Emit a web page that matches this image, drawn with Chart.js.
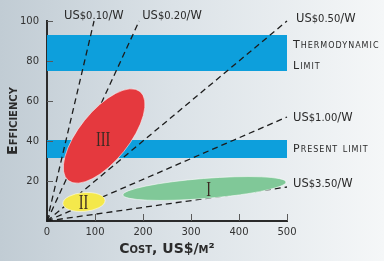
<!DOCTYPE html>
<html>
<head>
<meta charset="utf-8">
<script src="https://cdn.jsdelivr.net/npm/chart.js@4.4.1/dist/chart.umd.min.js"></script>
<style>
  html, body { margin: 0; padding: 0; }
  body { width: 384px; height: 261px; background: linear-gradient(to right, #c1ccd4 0%, #dbe2e7 45%, #f5f7f8 100%); }
  canvas { display: block; }
</style>
</head>
<body>
<canvas id="myChart" width="384" height="261"></canvas>
<script>
// axes
var costTicks = [0, 100, 200, 300, 400, 500];
var effTicks = [0, 20, 40, 60, 80, 100];

// dashed cost-per-watt lines, from the origin to these ends
var priceLabels = ["US$0.10/W", "US$0.20/W", "US$0.50/W", "US$1.00/W", "US$3.50/W"];
var lineEndCost = [98, 192, 500, 500, 500];
var lineEndEff = [100, 100, 100, 52, 17];

// blue efficiency bands
var bandLabels = [["Thermodynamic", "Limit"], ["Present limit"]];
var bandLow = [75, 31.5];
var bandHigh = [93, 40.5];

// generation regions (ellipses): centre plus ends of two conjugate half axes
var regionNames = ["III", "II", "I"];
var regionCost = [119, 77, 328];
var regionEff = [42.5, 9.5, 16.25];
var regionMajorCost = [193.5, 121, 498];
var regionMajorEff = [64.8, 10.2, 19.5];
var regionMinorCost = [160, 77, 330];
var regionMinorEff = [34.75, 14.2, 11.25];
var regionLabelCost = [117, 76, 337];
var regionLabelEff = [40.75, 9.25, 15.75];

var regionColor = ["#e5393e", "#f4e84b", "#80c898"];
var bandColor = "#0d9fdc";
var inkColor = "#2b2b2b";

function drawPrice(ctx, text, x, y) {
  // "US" and "/W" a bit bigger than the money part
  var m = text.match(/^(US)(\$[\d.]+)(\/W)$/);
  var parts = [[m[1], 11.5], [m[2], 10], [m[3], 11.5]];
  ctx.textAlign = "left";
  ctx.textBaseline = "alphabetic";
  parts.forEach(function(p) {
    ctx.font = p[1] + 'px "DejaVu Sans"';
    ctx.fillText(p[0], x, y);
    x += ctx.measureText(p[0]).width;
  });
}

var extras = {
  id: "extras",
  beforeDatasetsDraw: function(chart) {
    var ctx = chart.ctx, xs = chart.scales.x, ys = chart.scales.y;
    ctx.save();
    ctx.fillStyle = bandColor;
    for (var i = 0; i < bandLow.length; i++) {
      var x0 = xs.getPixelForValue(0), x1 = xs.getPixelForValue(500);
      var y0 = ys.getPixelForValue(bandHigh[i]), y1 = ys.getPixelForValue(bandLow[i]);
      ctx.fillRect(x0, y0, x1 - x0, y1 - y0);
    }
    ctx.restore();
  },
  afterDatasetsDraw: function(chart) {
    var ctx = chart.ctx, xs = chart.scales.x, ys = chart.scales.y;
    var area = chart.chartArea;
    ctx.save();

    // ellipses
    for (var i = 0; i < regionNames.length; i++) {
      var cx = xs.getPixelForValue(regionCost[i]), cy = ys.getPixelForValue(regionEff[i]);
      var ax = xs.getPixelForValue(regionMajorCost[i]) - cx, ay = ys.getPixelForValue(regionMajorEff[i]) - cy;
      var bx = xs.getPixelForValue(regionMinorCost[i]) - cx, by = ys.getPixelForValue(regionMinorEff[i]) - cy;
      ctx.save();
      ctx.transform(ax, ay, bx, by, cx, cy);
      ctx.beginPath();
      ctx.arc(0, 0, 1, 0, Math.PI * 2);
      ctx.restore();
      ctx.fillStyle = regionColor[i];
      ctx.fill();
      ctx.strokeStyle = "rgba(255,255,255,0.55)";
      ctx.lineWidth = 1;
      ctx.stroke();

      ctx.save();
      ctx.translate(xs.getPixelForValue(regionLabelCost[i]), ys.getPixelForValue(regionLabelEff[i]));
      ctx.scale(0.72, 1);
      ctx.fillStyle = "#3a2a22";
      ctx.font = '20px "Liberation Serif"';
      ctx.textAlign = "center";
      ctx.textBaseline = "middle";
      ctx.fillText(regionNames[i], 0, 1);
      ctx.restore();
    }

    // inner tick marks
    ctx.strokeStyle = "#5a5a5a";
    ctx.lineWidth = 1;
    costTicks.forEach(function(v) {
      if (v === 0) return;
      var x = Math.round(xs.getPixelForValue(v)) + 0.5;
      ctx.beginPath(); ctx.moveTo(x, area.bottom); ctx.lineTo(x, area.bottom - 7); ctx.stroke();
    });
    effTicks.forEach(function(v) {
      if (v === 0) return;
      var y = Math.round(ys.getPixelForValue(v)) + 0.5;
      ctx.beginPath(); ctx.moveTo(area.left, y); ctx.lineTo(area.left + 6, y); ctx.stroke();
    });

    // price labels at the ends of the dashed lines
    ctx.fillStyle = inkColor;
    for (var k = 0; k < priceLabels.length; k++) {
      var ex = xs.getPixelForValue(lineEndCost[k]), ey = ys.getPixelForValue(lineEndEff[k]);
      if (k === 0) drawPrice(ctx, priceLabels[k], ex - 30, ey - 2);
      else if (k === 1) drawPrice(ctx, priceLabels[k], ex + 3, ey - 2);
      else if (k === 2) drawPrice(ctx, priceLabels[k], ex + 9, ey + 1);
      else drawPrice(ctx, priceLabels[k], ex + 6, ey + (k === 4 ? 0 : 4));
    }

    // band labels
    ctx.font = 'small-caps 11px "DejaVu Sans"';
    ctx.letterSpacing = "1px";
    ctx.textAlign = "left";
    ctx.textBaseline = "middle";
    for (var j = 0; j < bandLabels.length; j++) {
      var mid = ys.getPixelForValue((bandLow[j] + bandHigh[j]) / 2);
      var lines = bandLabels[j];
      var lx = xs.getPixelForValue(500) + 6;
      if (lines.length === 1) ctx.fillText(lines[0], lx, mid);
      else { ctx.fillText(lines[0], lx, mid - 8); ctx.fillText(lines[1], lx, mid + 13); }
    }
    ctx.letterSpacing = "0px";

    // axis titles
    ctx.font = 'small-caps bold 14px "DejaVu Sans"';
    ctx.textAlign = "center";
    ctx.textBaseline = "middle";
    ctx.fillText("Cost, US$/m\u00b2", (area.left + area.right) / 2, 249);
    ctx.save();
    ctx.translate(13, (area.top + area.bottom) / 2);
    ctx.rotate(-Math.PI / 2);
    ctx.fillText("Efficiency", 0, 0);
    ctx.restore();

    ctx.restore();
  }
};

new Chart("myChart", {
  type: "line",
  data: {
    datasets: priceLabels.map(function(p, i) {
      return {
        label: p,
        data: [{x: 0, y: 0}, {x: lineEndCost[i], y: lineEndEff[i]}],
        borderColor: "#1c1c1c",
        borderWidth: 1.3,
        borderDash: [6, 4],
        pointRadius: 0,
        clip: false
      };
    })
  },
  options: {
    responsive: false,
    animation: false,
    layout: {padding: {left: 0, right: 97, top: 21, bottom: 0}},
    plugins: {legend: {display: false}, tooltip: {enabled: false}},
    scales: {
      x: {
        type: "linear", min: 0, max: 500,
        afterBuildTicks: function(s) { s.ticks = costTicks.map(function(v) { return {value: v}; }); },
        ticks: {color: "#333", font: {family: "DejaVu Sans", size: 10}, padding: 5, maxRotation: 0},
        grid: {display: false, drawTicks: false},
        border: {color: inkColor, width: 2},
        afterFit: function(s) { s.height = 40; }
      },
      y: {
        type: "linear", min: 0, max: 100,
        afterBuildTicks: function(s) { s.ticks = effTicks.map(function(v) { return {value: v}; }); },
        ticks: {color: "#333", font: {family: "DejaVu Sans", size: 10}, padding: 8,
          callback: function(v) { return v === 0 ? "" : v; }},
        grid: {display: false, drawTicks: false},
        border: {color: inkColor, width: 2},
        afterFit: function(s) { s.width = 47; }
      }
    }
  },
  plugins: [extras]
});
</script>
</body>
</html>
